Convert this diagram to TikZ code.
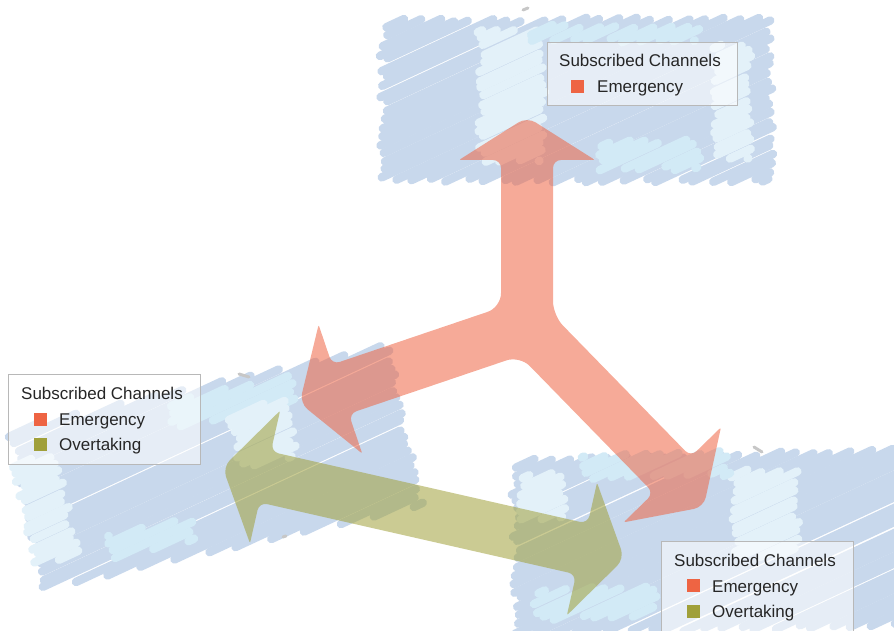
\documentclass[tikz,border=0pt]{standalone}
\usepackage{fontspec}
\setmainfont{Liberation Sans}

\definecolor{carblue}{HTML}{C8D8EC}
\definecolor{carlight}{HTML}{E3F1F9}
\definecolor{carcyan}{HTML}{D2EAF6}
\definecolor{emergency}{HTML}{EE6443}
\definecolor{overtaking}{HTML}{A0A03A}
\definecolor{legendtxt}{HTML}{262626}

% hatch a (rotated) rectangle with round ended pen strokes
% #1,#2 lower left corner, #3 width, #4 height, #5 rotation, #6 stroke style
\newcommand{\scribble}[6]{%
  \begin{scope}[shift={(#1,#2)},rotate=#5]
    \pgfmathsetmacro{\sctan}{tan(25-#5)}
    \pgfmathsetmacro{\scstep}{7.5/cos(25-#5)}
    \pgfmathtruncatemacro{\scn}{(#3*\sctan+#4)/\scstep}
    \foreach \sk in {0,...,\scn}{
      \pgfmathsetmacro{\scc}{0-#3*\sctan+(\sk+0.5)*\scstep+1.5*rand}
      \pgfmathsetmacro{\sxa}{max(0,0-(\scc)/\sctan)+3.5+4*rand}
      \pgfmathsetmacro{\sxb}{min(#3,(#4-(\scc))/\sctan)-3.5+4*rand}
      \ifdim\sxa pt<\sxb pt
        \draw[#6] (\sxa,\scc+\sxa*\sctan) -- (\sxb,\scc+\sxb*\sctan);
      \fi
    }
  \end{scope}}

\begin{document}
\begin{tikzpicture}[x=1pt,y=1pt,
  pen/.style={line width=8.5pt,line cap=round,draw=carblue},
  penlight/.style={pen,draw=carlight},
  pencyan/.style={pen,draw=carcyan},
  antenna/.style={line width=3pt,line cap=round,draw=black!22},
  legendbox/.style={draw=black!28,line width=1.3pt,fill=white,fill opacity=0.55,
    minimum width=192pt,inner sep=0pt,anchor=north west},
  legendtext/.style={text=legendtxt,font=\fontsize{17}{20}\selectfont,inner sep=0pt,anchor=base west},
  swatch/.style={minimum size=13pt,inner sep=0pt}]

\clip (0,0) rectangle (894,631);
\pgfmathsetseed{17}

% the three cars
\scribble{380}{449}{393}{164}{0}{pen}
\scribble{43}{41}{390}{165}{12.5}{pen}
\scribble{515}{-5}{400}{177}{1.5}{pen}

% windows
\scribble{478}{469}{67}{132}{0}{penlight}
\scribble{712}{471}{40}{115}{0}{penlight}
\scribble{597}{461}{103}{30}{0}{pencyan}
\scribble{530}{589}{170}{17}{0}{pencyan}
\scribble{35}{66}{45}{105}{12.5}{penlight}
\scribble{170}{201}{130}{28}{12.5}{pencyan}
\scribble{240}{161}{60}{60}{12.5}{penlight}
\scribble{110}{71}{90}{25}{12.5}{pencyan}
\scribble{520}{111}{47}{47}{1.5}{penlight}
\scribble{733}{71}{67}{90}{1.5}{penlight}
\scribble{580}{151}{150}{25}{1.5}{pencyan}
\scribble{533}{11}{127}{32}{1.5}{pencyan}

\draw[antenna] (523,621) -- (528,623);
\draw[antenna] (239,257) -- (249,254);
\draw[antenna] (283,94) -- (286,95);
\draw[antenna] (754,184) -- (762,179);

% emergency channel: three way arrow
\begin{scope}[shift={(527,305)}]
  \foreach \arm/\ang/\len/\hd in {up/90/166/43, lf/198.7/197/43, rt/314.3/208/45}{
    \begin{scope}[rotate=\ang]
      \coordinate (\arm-r) at (\len,-26);
      \coordinate (\arm-rw) at (\len,-68);
      \coordinate (\arm-tip) at (\len+\hd,0);
      \coordinate (\arm-lw) at (\len,68);
      \coordinate (\arm-l) at (\len,26);
    \end{scope}}
  \coordinate (c1) at (22.15:28.1);
  \coordinate (c2) at (144.35:32);
  \coordinate (c3) at (256.5:30.7);
\end{scope}
\fill[emergency,opacity=0.55] (c1) [rounded corners=8]
  -- (up-r) [rounded corners=2] -- (up-rw) [rounded corners=10] -- (up-tip)
  [rounded corners=2] -- (up-lw) [rounded corners=8] -- (up-l) [rounded corners=14]
  -- (c2) [rounded corners=8]
  -- (lf-r) [rounded corners=2] -- (lf-rw) [rounded corners=10] -- (lf-tip)
  [rounded corners=2] -- (lf-lw) [rounded corners=8] -- (lf-l) [rounded corners=14]
  -- (c3) [rounded corners=8]
  -- (rt-r) [rounded corners=2] -- (rt-rw) [rounded corners=10] -- (rt-tip)
  [rounded corners=2] -- (rt-lw) [rounded corners=8] -- (rt-l) [rounded corners=14]
  -- cycle;

% overtaking channel: double arrow
\begin{scope}[shift={(423.5,118)},rotate=-12.8]
  \coordinate (ot-a) at (-162.5,26);
  \coordinate (ot-b) at (162.5,26);
  \coordinate (ot-bw) at (162.5,68);
  \coordinate (ot-btip) at (206,0);
  \coordinate (ot-cw) at (162.5,-68);
  \coordinate (ot-c) at (162.5,-26);
  \coordinate (ot-d) at (-162.5,-26);
  \coordinate (ot-dw) at (-162.5,-68);
  \coordinate (ot-atip) at (-206,0);
  \coordinate (ot-aw) at (-162.5,68);
\end{scope}
\fill[overtaking,opacity=0.55] (ot-a) [rounded corners=8]
  -- (ot-b) [rounded corners=2] -- (ot-bw) [rounded corners=10] -- (ot-btip)
  [rounded corners=2] -- (ot-cw) [rounded corners=8] -- (ot-c)
  -- (ot-d) [rounded corners=2] -- (ot-dw) [rounded corners=10] -- (ot-atip)
  [rounded corners=2] -- (ot-aw) [rounded corners=8] -- cycle;

% legends
\node[legendbox,minimum height=63pt,minimum width=190pt] (topLg) at (547,589) {};
\node[legendtext] (topTitle) at (559,564) {Subscribed Channels};
\node[swatch,fill=emergency] (topSwE) at (577,544.5) {};
\node[legendtext] (topEm) at (597,538) {Emergency};

\node[legendbox,minimum height=90pt] (leftLg) at (8,257) {};
\node[legendtext] (leftTitle) at (21,231) {Subscribed Channels};
\node[swatch,fill=emergency] (leftSwE) at (40,211.5) {};
\node[legendtext] (leftEm) at (59,205) {Emergency};
\node[swatch,fill=overtaking] (leftSwO) at (40,186.5) {};
\node[legendtext] (leftOv) at (59,180) {Overtaking};

\node[legendbox,minimum height=90pt] (rightLg) at (661,90) {};
\node[legendtext] (rightTitle) at (674,64) {Subscribed Channels};
\node[swatch,fill=emergency] (rightSwE) at (693,45) {};
\node[legendtext] (rightEm) at (712,38.5) {Emergency};
\node[swatch,fill=overtaking] (rightSwO) at (693,19.5) {};
\node[legendtext] (rightOv) at (712,13) {Overtaking};

\end{tikzpicture}
\end{document}
